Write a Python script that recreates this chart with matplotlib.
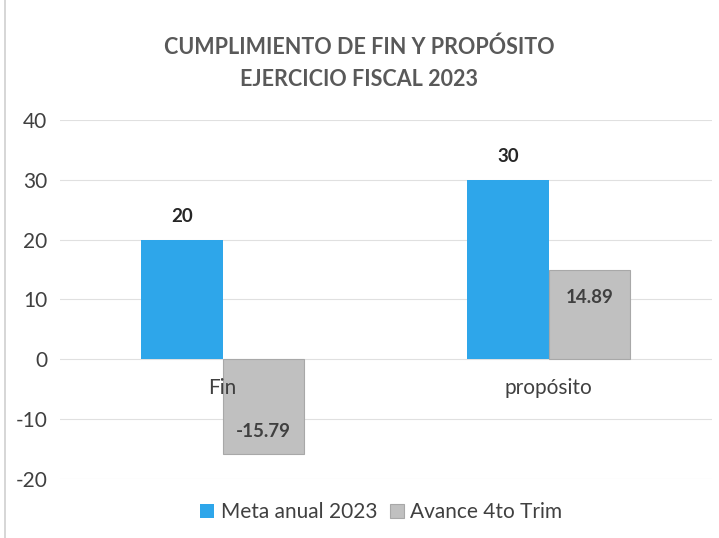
import matplotlib
matplotlib.use('Agg')
import matplotlib.pyplot as plt
from matplotlib.patches import Rectangle

categorias = ['Fin', 'propósito']
meta_anual = [20, 30]
avance_4to = [-15.79, 14.89]
series = ['Meta anual 2023', 'Avance 4to Trim']
yticks = [-20, -10, 0, 10, 20, 30, 40]

plt.rcParams['font.family'] = ['Lato', 'DejaVu Sans']
plt.rcParams['axes.unicode_minus'] = False

fig = plt.figure(figsize=(7.19, 5.38), dpi=100)
ax = fig.add_axes([0.083, 0.110, 0.907, 0.667])

x = list(range(len(categorias)))
w = 0.25
b1 = ax.bar([i - w / 2 for i in x], meta_anual, w, color='#2ea6ea', label=series[0])
b2 = ax.bar([i + w / 2 for i in x], avance_4to, w, color='#c0c0c0',
            edgecolor='#a8a8a8', linewidth=0.8, label=series[1])

ax.set_xlim(-0.5, 1.5)
ax.set_ylim(-20, 40)
ax.set_yticks(yticks)
ax.set_xticks([])
ax.tick_params(axis='y', length=0, labelsize=15, labelcolor='#404040', pad=9)
for s in ax.spines.values():
    s.set_visible(False)
ax.grid(axis='y', color='#e0e0e0', linewidth=0.8)
ax.set_axisbelow(True)

# category names sit just under the zero line
for i, c in zip(x, categorias):
    ax.text(i, -4.8, c, ha='center', va='center', fontsize=15, color='#404040')

# labels: meta outside end, avance inside end
for bar, v in zip(b1, meta_anual):
    ax.text(bar.get_x() + bar.get_width() / 2, v + 2.5, f'{v:g}',
            ha='center', va='bottom', fontsize=13.5, fontweight='bold', color='#262626')
for bar, v in zip(b2, avance_4to):
    off = -4.6 if v > 0 else 3.7
    ax.text(bar.get_x() + bar.get_width() / 2, v + off, f'{v:.2f}',
            ha='center', va='center', fontsize=13.5, fontweight='bold', color='#404040')

fig.text(0.50, 0.882, 'CUMPLIMIENTO DE FIN Y PROPÓSITO\nEJERCICIO FISCAL 2023',
         ha='center', va='center', fontsize=15.5, fontweight='bold', color='#595959',
         linespacing=1.65)

leg = fig.legend(loc='center', bbox_to_anchor=(0.53, 0.048), ncol=2, frameon=False,
                 fontsize=15, handlelength=0.7, handleheight=0.7, handletextpad=0.3,
                 columnspacing=0.6, labelcolor='#404040')

# thin outer frame on the left
fig.add_artist(Rectangle((0.007, -0.01), 1.0, 1.02, transform=fig.transFigure,
                         fill=False, edgecolor='#d0d0d0', linewidth=1.2))

fig.savefig('out.png', dpi=100)
